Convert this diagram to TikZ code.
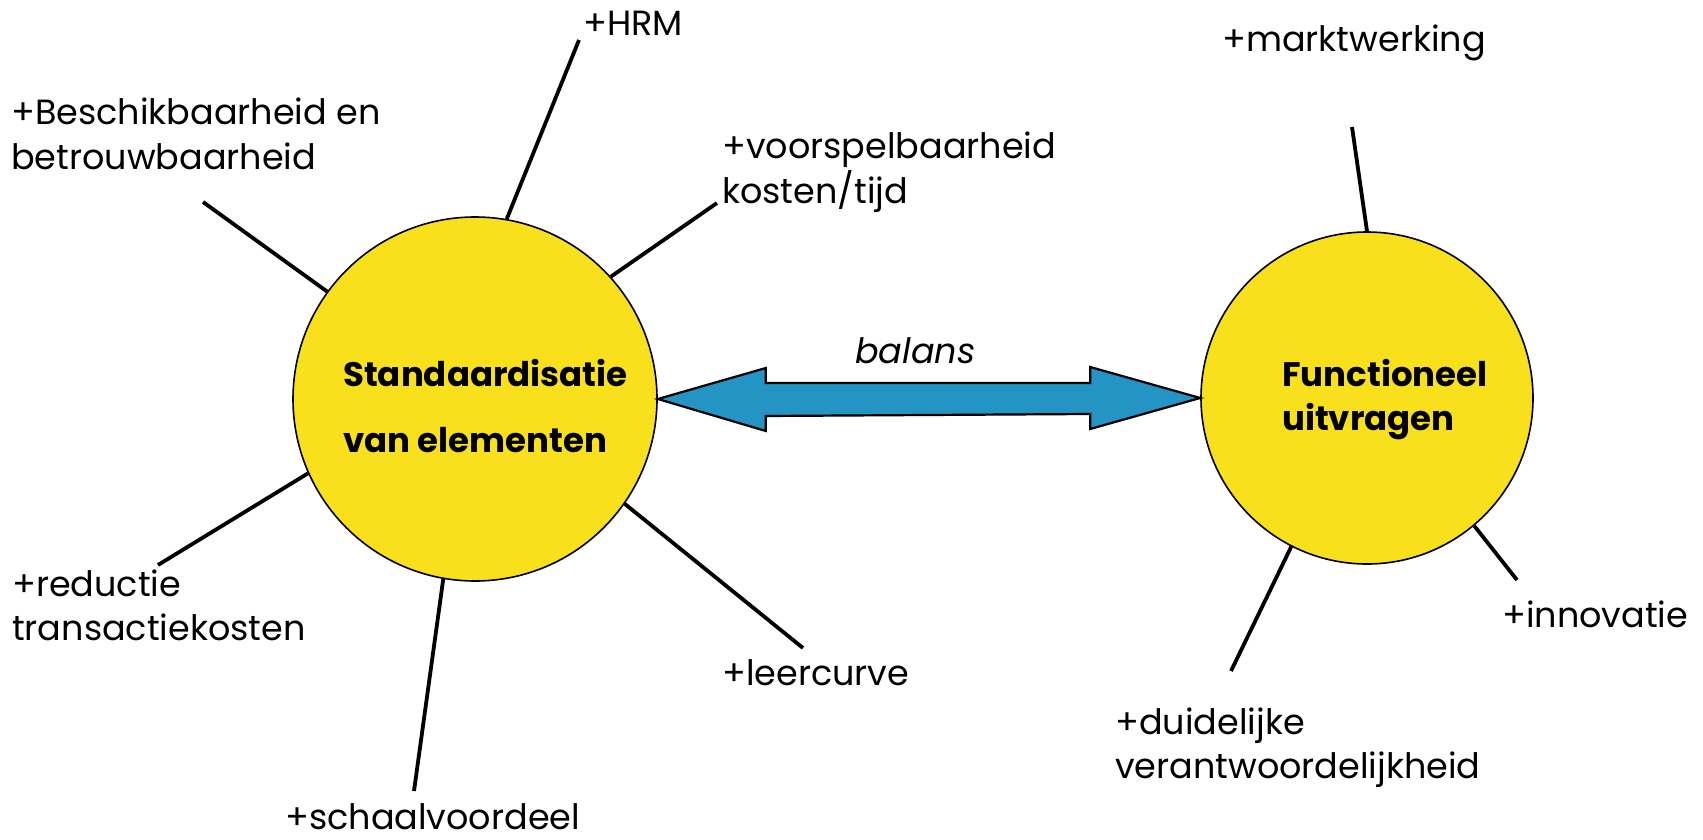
\documentclass[tikz,border=0pt]{standalone}
\usepackage{fontspec}
\setmainfont{Poppins}
\usepackage{tikz}
\usetikzlibrary{calc, positioning}

\definecolor{hubyellow}{RGB}{248,224,28}
\definecolor{arrowblue}{RGB}{36,148,196}

\tikzset{
  hub/.style={circle, draw=black, line width=1.6pt, fill=hubyellow, inner sep=0pt},
  spoke/.style={line width=3.8pt},
  lbl/.style={inner sep=0pt, align=left, anchor=base west, font=\fontsize{35}{44}\selectfont},
  hublbl/.style={inner sep=0pt, align=left, anchor=base west, font=\fontsize{34}{44}\selectfont\bfseries},
  balarrow/.style={draw=black, line width=2.2pt, fill=arrowblue, line join=miter}
}

\begin{document}
\begin{tikzpicture}[x=1pt, y=-1pt]
    \useasboundingbox (0,0) rectangle (1703,840);
    % Circles
    \node[hub, minimum size=364pt] (std) at (475,399) {};
    \node[hub, minimum size=332pt] (fun) at (1367,398) {};
    % Double arrow between the circles
    \draw[balarrow] (std.east) -- ++(108,-31) -- ++(0,15)
        -- ($(fun.west)+(-110,-15)$) -- ++(0,-16) -- (fun.west)
        -- ++(-110,31) -- ++(0,-15) -- ($(std.east)+(108,17)$)
        -- ++(0,15) -- cycle;
    \node[lbl, font=\fontsize{35}{44}\selectfont\itshape] (balans) at (855,363) {balans};
    % Free ends of the spokes
    \coordinate (hrm-end)   at (579,40);
    \coordinate (besch-end) at (203,202);
    \coordinate (voors-end) at (717,203);
    \coordinate (reduc-end) at (158,565);
    \coordinate (schaa-end) at (414,791);
    \coordinate (leerc-end) at (803,648);
    \coordinate (markt-end) at (1352,127);
    \coordinate (duide-end) at (1231,671);
    \coordinate (innov-end) at (1517,580);
    % Spokes
    \draw[spoke] (std.80.6)  -- (hrm-end);
    \draw[spoke] (std.144.9) -- (besch-end);
    \draw[spoke] (std.42.1)  -- (voors-end);
    \draw[spoke] (std.204.2) -- (reduc-end);
    \draw[spoke] (std.260.7) -- (schaa-end);
    \draw[spoke] (std.325.1) -- (leerc-end);
    \draw[spoke] (fun.90.3)  -- (markt-end);
    \draw[spoke] (fun.243.6) -- (duide-end);
    \draw[spoke] (fun.310.8) -- (innov-end);
    % Labels in the circles (base = last line)
    \node[hublbl] (std-lbl) at (343,452) {Standaardisatie\\[22pt]van elementen};
    \node[hublbl] (fun-lbl) at (1282,430) {Functioneel\\uitvragen};
    % Labels at the spokes
    \node[lbl] (hrm)   at (583,36)   {+HRM};
    \node[lbl] (besch) at (11,169)   {+Beschikbaarheid en\\betrouwbaarheid};
    \node[lbl] (voors) at (722,203)  {+voorspelbaarheid\\kosten/tijd};
    \node[lbl] (reduc) at (12,640)   {+reductie\\transactiekosten};
    \node[lbl] (schaa) at (285,829)  {+schaalvoordeel};
    \node[lbl] (leerc) at (722,685)  {+leercurve};
    \node[lbl] (markt) at (1222,52)  {+marktwerking};
    \node[lbl] (duide) at (1115,778) {+duidelijke\\verantwoordelijkheid};
    \node[lbl] (innov) at (1502,627) {+innovatie};
\end{tikzpicture}
\end{document}
